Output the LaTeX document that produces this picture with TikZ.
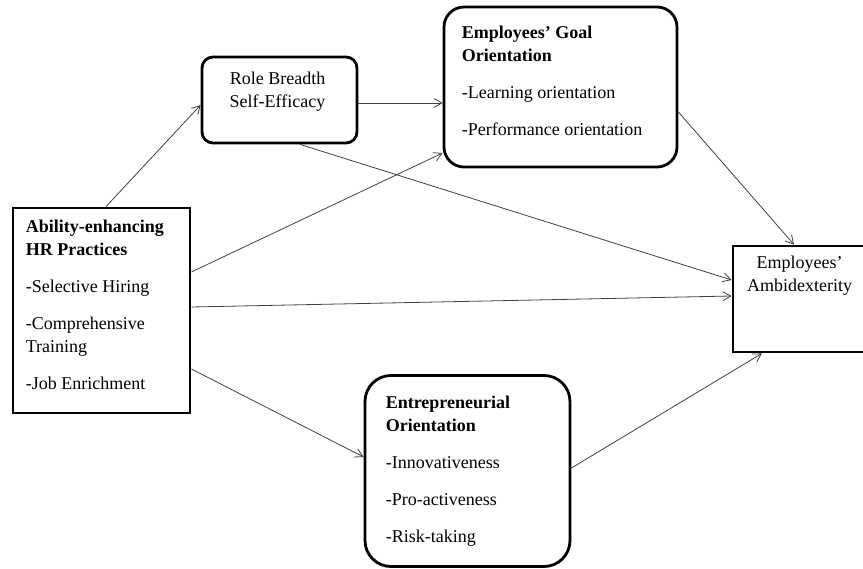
\documentclass[tikz,border=0pt]{standalone}
\usepackage{fontspec}
\setmainfont{Liberation Serif}
\usetikzlibrary{arrows.meta,positioning}

\begin{document}
\begin{tikzpicture}[
  x=1pt,y=-1pt,
  box/.style={draw,line width=2.8pt,inner sep=0pt},
  roundbox/.style={box,rounded corners=#1},
  txt/.style={inner sep=0pt,align=left,font=\fontsize{18}{23}\selectfont},
  arrow/.style={-{Straight Barb[length=8pt,width=9pt]},draw=black!75,line width=0.8pt}
]
  \useasboundingbox (0,0) rectangle (863,569);
  % boxes
  \node[box,minimum width=177pt,minimum height=205pt] (hr) at (101.5,310.5) {};
  \node[roundbox=11pt,minimum width=155pt,minimum height=86pt] (rbse) at (279.5,100) {};
  \node[roundbox=20pt,minimum width=233pt,minimum height=160pt] (ego) at (560.5,87) {};
  \node[box,minimum width=133pt,minimum height=106pt] (amb) at (799.5,299) {};
  \node[roundbox=26pt,minimum width=205pt,minimum height=191pt] (eo) at (467.5,471) {};
  % texts (anchored at the last line)
  \node[txt,anchor=base west] (hrtxt) at ([shift={(14,183)}]hr.north west)
    {\textbf{Ability-enhancing}\\\textbf{HR Practices}\\[14pt]-Selective Hiring\\[14pt]-Comprehensive\\Training\\[14pt]-Job Enrichment};
  \node[txt,align=center,anchor=base] (rbsetxt) at ([shift={(-2,52)}]rbse.north) {Role Breadth\\Self-Efficacy};
  \node[txt,anchor=base west] (egotxt) at ([shift={(19,130)}]ego.north west)
    {\textbf{Employees’ Goal}\\\textbf{Orientation}\\[14pt]-Learning orientation\\[14pt]-Performance orientation};
  \node[txt,align=center,anchor=base] (ambtxt) at ([shift={(0,47)}]amb.north) {Employees’\\Ambidexterity};
  \node[txt,anchor=base west] (eotxt) at ([shift={(22,168)}]eo.north west)
    {\textbf{Entrepreneurial}\\\textbf{Orientation}\\[14pt]-Innovativeness\\[14pt]-Pro-activeness\\[14pt]-Risk-taking};
  % paths
  \draw[arrow] ([xshift=4.5pt]hr.north)--([yshift=-5pt]rbse.west);
  \draw[arrow] ([yshift=-3pt]rbse.east)--([yshift=-16pt]ego.west);
  \draw[arrow] ([xshift=20.5pt]rbse.south)--([yshift=19pt]amb.west);
  \draw[arrow] ([yshift=38.5pt]hr.east)--([yshift=-66pt]ego.west);
  \draw[arrow] ([yshift=3.5pt]hr.east)--([yshift=3pt]amb.west);
  \draw[arrow] ([yshift=-58.5pt]hr.east)--([yshift=14pt]eo.west);
  \draw[arrow] ([yshift=-25pt]ego.east)--([xshift=-5.5pt]amb.north);
  \draw[arrow] ([yshift=3pt]eo.east)--([xshift=-37.5pt]amb.south);
\end{tikzpicture}
\end{document}
